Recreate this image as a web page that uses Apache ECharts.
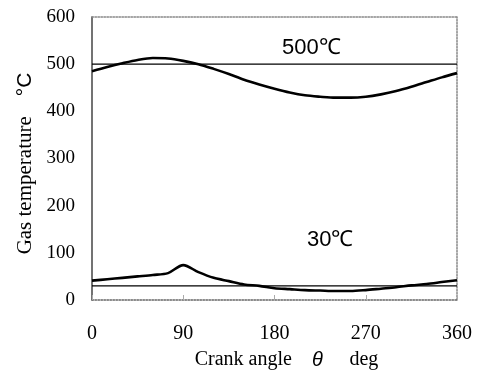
<!DOCTYPE html>
<html>
<head>
<meta charset="utf-8">
<script src="https://cdn.jsdelivr.net/npm/echarts@6/dist/echarts.min.js"></script>
<style>
  html, body { margin: 0; padding: 0; background: #fff; }
  #chart { width: 482px; height: 372px; }
</style>
</head>
<body>
<div id="chart"></div>
<script>
// crank angle (deg)
const angles = [0, 15, 30, 45, 60, 75, 90, 105, 120, 135, 150, 165, 180,
  195, 210, 225, 240, 255, 270, 285, 300, 315, 330, 345, 360]
// gas temperature, 500 degC heater side
const hotGas = [485, 494, 502, 509, 513, 512, 507, 500, 490, 479, 467, 457, 448,
  440, 434, 431, 429, 429, 431, 436, 443, 452, 462, 472, 481]
// gas temperature, 30 degC cooler side
const coldGas = [41, 44, 47, 50, 53, 57, 74, 59, 47, 40, 33, 30, 25,
  23, 21, 20, 19, 19, 21, 24, 27, 31, 34, 38, 42]
// wall temperatures
const wallTemps = [500, 30]
const wallLabels = ['500℃', '30℃']

const xTicks = [0, 90, 180, 270, 360]

const serif = '"Liberation Serif", "DejaVu Serif", serif'
const sans = '"Liberation Sans", Arial, sans-serif'

const chart = echarts.init(document.getElementById('chart'))

const curve = (data) => ({
  type: 'line',
  data: angles.map((a, i) => [a, data[i]]),
  symbol: 'none',
  smooth: 0.3,
  lineStyle: { color: '#000', width: 2.6 },
  silent: true,
  animation: false,
})

const wallLine = (t) => ({
  type: 'line',
  data: [[xTicks[0], t], [xTicks[xTicks.length - 1], t]],
  symbol: 'none',
  lineStyle: { color: '#000', width: 1.2 },
  silent: true,
  animation: false,
})

// dotted frame on top / right
const frameLine = { show: true, onZero: false, lineStyle: { color: '#888', type: 'dotted', width: 1.5 } }

chart.setOption({
  grid: { left: 92, right: 25, top: 17, bottom: 72, containLabel: false, outerBoundsMode: 'none' },
  xAxis: [
    {
      type: 'value',
      min: 0,
      max: 360,
      interval: 90,
      name: '{a|Crank angle}      {t|θ}        {a|deg}',
      nameLocation: 'middle',
      nameGap: 50,
      nameTextStyle: {
        padding: [0, 0, 0, 24],
        rich: {
          a: { fontFamily: serif, fontSize: 20, color: '#000' },
          t: { fontFamily: sans, fontSize: 20, fontStyle: 'italic', color: '#000' },
        },
      },
      axisLine: { onZero: false, lineStyle: { color: '#666', type: 'dotted', width: 1.5 } },
      axisTick: { show: true, inside: true, length: 5, lineStyle: { color: '#aaa' } },
      splitLine: { show: false },
      axisLabel: {
        margin: 24,
        fontFamily: serif,
        fontSize: 20,
        color: '#000',
        showMinLabel: true,
        showMaxLabel: true,
      },
    },
    {
      type: 'value',
      position: 'top',
      min: 0,
      max: 360,
      interval: 90,
      axisLine: frameLine,
      axisTick: { show: false },
      axisLabel: { show: false },
      splitLine: { show: false },
    },
  ],
  yAxis: [
    {
      type: 'value',
      min: 0,
      max: 600,
      interval: 100,
      name: '{a|Gas temperature}      {b|°C}',
      nameLocation: 'middle',
      nameRotate: 90,
      nameGap: 56,
      nameTextStyle: {
        padding: [0, 10, 0, 0],
        rich: {
          a: { fontFamily: serif, fontSize: 21, color: '#000' },
          b: { fontFamily: sans, fontSize: 21, color: '#000' },
        },
      },
      axisLine: { show: true, onZero: false, lineStyle: { color: '#444', width: 1.5 } },
      axisTick: { show: false },
      splitLine: { show: false },
      axisLabel: {
        margin: 17,
        fontFamily: serif,
        fontSize: 19,
        color: '#000',
      },
    },
    {
      type: 'value',
      position: 'right',
      min: 0,
      max: 600,
      interval: 100,
      axisLine: frameLine,
      axisTick: { show: false },
      axisLabel: { show: false },
      splitLine: { show: false },
    },
  ],
  graphic: [
    {
      type: 'text',
      left: 282,
      top: 37,
      style: { text: wallLabels[0], font: `22px ${sans}`, fill: '#000' },
    },
    {
      type: 'text',
      left: 307,
      top: 229,
      style: { text: wallLabels[1], font: `22px ${sans}`, fill: '#000' },
    },
  ],
  series: [
    wallLine(wallTemps[0]),
    wallLine(wallTemps[1]),
    curve(hotGas),
    curve(coldGas),
  ],
})
</script>
</body>
</html>
